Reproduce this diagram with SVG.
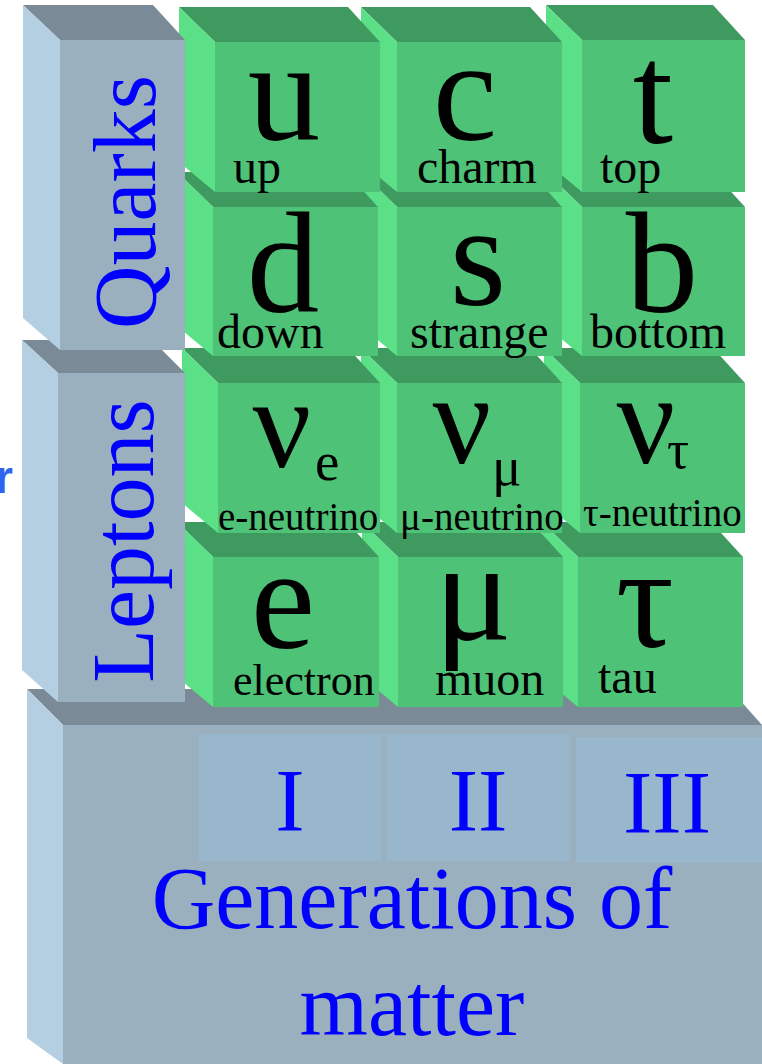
<svg xmlns="http://www.w3.org/2000/svg" width="762" height="1064" viewBox="0 0 762 1064">
<style>
.gt{fill:#7A8B97}.gl{fill:#B4CFE1}.gf{fill:#9BB0BE}.cell{fill:#98B6CC}
.ct{fill:#3E9A5E}.cl{fill:#5BE088}.cf{fill:#4EC276}
.lbl{font-family:"Liberation Serif","Times New Roman",serif;fill:#0000FF;font-size:88px}
.sym{font-family:"Liberation Serif","Times New Roman",serif;fill:#000;font-size:145px;text-anchor:middle}
.sub{font-family:"Liberation Serif","Times New Roman",serif;fill:#000;font-size:55px}
.nm{font-family:"Liberation Serif","Times New Roman",serif;fill:#000;font-size:48px}
.nn{font-family:"Liberation Serif","Times New Roman",serif;fill:#000;font-size:39px}
</style>
<rect width="762" height="1064" fill="#FFFFFF"/>
<text x="-5" y="493" font-family="Liberation Sans, Arial, sans-serif" font-weight="bold" font-size="46" fill="#2F63F0">r</text>
<g id="base">
<polygon class="gt" points="27,689 730,689 762,725 63,725"/>
<polygon class="gl" points="27,689 63,725 63,1064 27,1038"/>
<rect class="gf" x="63" y="725" width="699" height="339"/>
<rect class="cell" x="199" y="734" width="183" height="127"/>
<rect class="cell" x="386" y="734" width="184" height="127"/>
<rect class="cell" x="576" y="737" width="186" height="126"/>
<text class="lbl" x="290" y="830" text-anchor="middle">I</text>
<text class="lbl" x="478" y="830" text-anchor="middle">II</text>
<text class="lbl" x="667" y="832" text-anchor="middle">III</text>
<text class="lbl" x="412" y="928" text-anchor="middle">Generations of</text>
<text class="lbl" x="412" y="1035" text-anchor="middle">matter</text>
</g>
<g id="tau">
<polygon class="ct" points="542,522 711,522 743,557 578,557"/>
<polygon class="cl" points="542,522 578,557 578,707 542,677"/>
<rect class="cf" x="578" y="557" width="165" height="150"/>
<text class="sym" x="645" y="647">τ</text>
<text class="nm" x="598" y="693">tau</text>
</g>
<g id="muon">
<polygon class="ct" points="362,522 531,522 563,557 398,557"/>
<polygon class="cl" points="362,522 398,557 398,707 362,677"/>
<rect class="cf" x="398" y="557" width="165" height="150"/>
<text class="sym" x="473" y="640">μ</text>
<text class="nm" x="435" y="695">muon</text>
</g>
<g id="electron">
<polygon class="ct" points="177,522 347,522 379,557 213,557"/>
<polygon class="cl" points="177,522 213,557 213,707 177,677"/>
<rect class="cf" x="213" y="557" width="166" height="150"/>
<text class="sym" x="283" y="648">e</text>
<text class="nn" x="233" y="695" style="font-size:44px">electron</text>
</g>
<g id="tau-neutrino">
<polygon class="ct" points="544,348 713,348 745,383 580,383"/>
<polygon class="cl" points="544,348 580,383 580,533 544,503"/>
<rect class="cf" x="580" y="383" width="165" height="150"/>
<text class="sym" x="646" y="463" style="font-size:130px">ν</text>
<text class="sub" x="667" y="468">τ</text>
<text class="nn" x="583" y="526">τ-neutrino</text>
</g>
<g id="mu-neutrino">
<polygon class="ct" points="361,348 530,348 562,383 397,383"/>
<polygon class="cl" points="361,348 397,383 397,533 361,503"/>
<rect class="cf" x="397" y="383" width="165" height="150"/>
<text class="sym" x="462" y="463" style="font-size:130px">ν</text>
<text class="sub" x="492" y="485">μ</text>
<text class="nn" x="400" y="530">μ-neutrino</text>
</g>
<g id="e-neutrino">
<polygon class="ct" points="182,348 348,348 380,383 218,383"/>
<polygon class="cl" points="182,348 218,383 218,533 182,503"/>
<rect class="cf" x="218" y="383" width="162" height="150"/>
<text class="sym" x="282" y="467" style="font-size:130px">ν</text>
<text class="sub" x="315" y="480">e</text>
<text class="nn" x="218" y="530">e-neutrino</text>
</g>
<g id="bottom">
<polygon class="ct" points="546,172 713,172 745,207 582,207"/>
<polygon class="cl" points="546,172 582,207 582,356 546,326"/>
<rect class="cf" x="582" y="207" width="163" height="149"/>
<text class="sym" x="662" y="312">b</text>
<text class="nm" x="590" y="348">bottom</text>
</g>
<g id="strange">
<polygon class="ct" points="361,172 530,172 562,207 397,207"/>
<polygon class="cl" points="361,172 397,207 397,356 361,326"/>
<rect class="cf" x="397" y="207" width="165" height="149"/>
<text class="sym" x="478" y="305">s</text>
<text class="nm" x="410" y="348">strange</text>
</g>
<g id="down">
<polygon class="ct" points="177,172 346,172 378,207 213,207"/>
<polygon class="cl" points="177,172 213,207 213,356 177,326"/>
<rect class="cf" x="213" y="207" width="165" height="149"/>
<text class="sym" x="283" y="312">d</text>
<text class="nm" x="217" y="348">down</text>
</g>
<g id="top">
<polygon class="ct" points="546,5 713,5 745,40 582,40"/>
<polygon class="cl" points="546,5 582,40 582,192 546,162"/>
<rect class="cf" x="582" y="40" width="163" height="152"/>
<text class="sym" x="653" y="143">t</text>
<text class="nm" x="600" y="183">top</text>
</g>
<g id="charm">
<polygon class="ct" points="361,7 530,7 562,42 397,42"/>
<polygon class="cl" points="361,7 397,42 397,192 361,162"/>
<rect class="cf" x="397" y="42" width="165" height="150"/>
<text class="sym" x="465" y="140">c</text>
<text class="nm" x="417" y="183">charm</text>
</g>
<g id="up">
<polygon class="ct" points="179,7 348,7 380,42 215,42"/>
<polygon class="cl" points="179,7 215,42 215,192 179,162"/>
<rect class="cf" x="215" y="42" width="165" height="150"/>
<text class="sym" x="284" y="140">u</text>
<text class="nm" x="233" y="183">up</text>
</g>
<g id="leptons">
<polygon class="gt" points="22,340 152,340 185,373 58,373"/>
<polygon class="gl" points="22,340 58,373 58,702 22,670"/>
<rect class="gf" x="58" y="373" width="127" height="329"/>
<text class="lbl" transform="translate(153,541) rotate(-90)" text-anchor="middle">Leptons</text>
</g>
<g id="quarks">
<polygon class="gt" points="23,5 153,5 185,40 60,40"/>
<polygon class="gl" points="23,5 60,40 60,350 23,318"/>
<rect class="gf" x="60" y="40" width="125" height="310"/>
<text class="lbl" transform="translate(155,202) rotate(-90)" text-anchor="middle">Quarks</text>
</g>
<g id="connectors"/>
</svg>
